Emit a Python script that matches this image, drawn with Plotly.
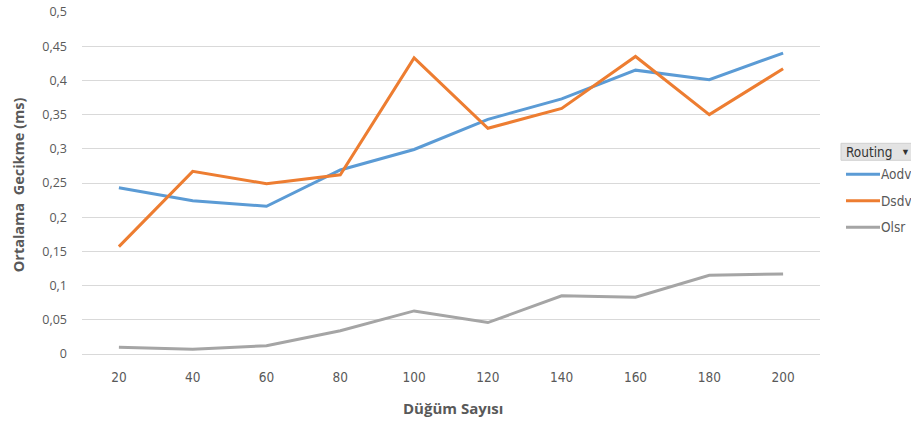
import plotly.graph_objects as go

# Number of nodes (categories on the x axis)
node_counts = ["20", "40", "60", "80", "100", "120", "140", "160", "180", "200"]

# Average delay (ms) per routing protocol
aodv = [0.243, 0.224, 0.216, 0.269, 0.299, 0.343, 0.373, 0.415, 0.401, 0.440]
dsdv = [0.157, 0.267, 0.249, 0.262, 0.433, 0.330, 0.359, 0.435, 0.350, 0.417]
olsr = [0.010, 0.007, 0.012, 0.034, 0.063, 0.046, 0.085, 0.083, 0.115, 0.117]

series_names = ["Aodv", "Dsdv", "Olsr"]
series_values = [aodv, dsdv, olsr]
series_colors = ["#5B9BD5", "#ED7D31", "#A5A5A5"]

W, H = 911, 423
ML, MR, MT, MB = 82, 91, 11.5, 69
PW, PH = W - ML - MR, H - MT - MB

FONT = "'Open Sans', sans-serif"
NARROW = "'Liberation Sans Narrow', 'DejaVu Sans Condensed', sans-serif"
TXT = "#595959"


def px_x(x):
    return (x - ML) / PW


def px_y(y):
    return (H - MB - y) / PH


fig = go.Figure()
for name, vals, col in zip(series_names, series_values, series_colors):
    fig.add_trace(go.Scatter(
        x=node_counts, y=vals, name=name, mode="lines",
        line=dict(color=col, width=3), showlegend=False,
    ))

shapes = []
annotations = []

# Axis titles
annotations.append(dict(xref="paper", yref="paper", x=px_x(18), y=px_y(185),
                        xanchor="center", yanchor="middle", showarrow=False, textangle=-90,
                        text="<b>Ortalama  Gecikme (ms)</b>",
                        font=dict(family=FONT, size=14.5, color=TXT)))
annotations.append(dict(xref="paper", yref="paper", x=px_x(453), y=px_y(408),
                        xanchor="center", yanchor="middle", showarrow=False,
                        text="<b>Düğüm Sayısı</b>",
                        font=dict(family=FONT, size=15, color=TXT)))

# Legend header box with the filter arrow
shapes.append(dict(type="rect", xref="paper", yref="paper",
                   x0=px_x(841), x1=px_x(918), y0=px_y(160), y1=px_y(143),
                   fillcolor="#E3E3E3", line=dict(color="#D0D0D0", width=1)))
annotations.append(dict(xref="paper", yref="paper", x=px_x(844), y=px_y(152),
                        xanchor="left", yanchor="middle", showarrow=False,
                        text="Routing", font=dict(family=NARROW, size=13.5, color="#333333")))
annotations.append(dict(xref="paper", yref="paper", x=px_x(899), y=px_y(151),
                        xanchor="left", yanchor="middle", showarrow=False,
                        text="▼", font=dict(family=FONT, size=9, color="#333333")))

# Legend entries
legend_rows = [174, 200.5, 227]
for name, col, ry in zip(series_names, series_colors, legend_rows):
    shapes.append(dict(type="line", xref="paper", yref="paper",
                       x0=px_x(846), x1=px_x(880), y0=px_y(ry), y1=px_y(ry),
                       line=dict(color=col, width=3)))
    annotations.append(dict(xref="paper", yref="paper", x=px_x(879), y=px_y(ry),
                            xanchor="left", yanchor="middle", showarrow=False,
                            text=name, font=dict(family=NARROW, size=13.5, color=TXT)))

fig.update_layout(
    width=W, height=H,
    margin=dict(l=ML, r=MR, t=MT, b=MB, pad=0),
    paper_bgcolor="white", plot_bgcolor="white",
    separators=",.",
    font=dict(family=FONT, size=12, color=TXT),
    shapes=shapes, annotations=annotations,
    xaxis=dict(
        type="category", range=[-0.5, 9.5], automargin=False,
        showgrid=False, showline=True, linecolor="#D9D9D9", linewidth=1,
        ticks="", ticklabelstandoff=11,
        tickfont=dict(family=NARROW, size=13.5, color=TXT),
        fixedrange=True,
    ),
    yaxis=dict(
        range=[0, 0.5], dtick=0.05, tick0=0, automargin=False,
        showgrid=True, gridcolor="#D9D9D9", gridwidth=1,
        zeroline=False, showline=False, ticks="",
        ticklabelstandoff=14,
        tickfont=dict(family=FONT, size=12.5, color=TXT),
        fixedrange=True,
    ),
)

fig.write_html("out.html")
